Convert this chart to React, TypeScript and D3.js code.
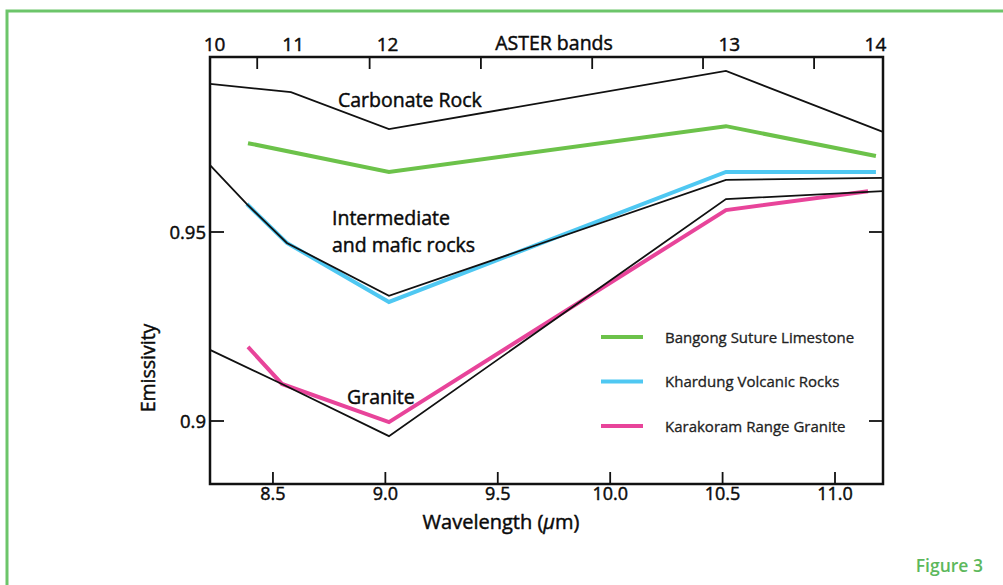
import React from 'react';
import * as d3 from 'd3';

// wavelength (µm) of each polyline vertex
const carbonateX = [8.22, 8.58, 9.016, 10.515, 11.213];
const carbonateY = [0.9892, 0.987, 0.9772, 0.9926, 0.9765];

const bangongX = [8.389, 9.016, 10.515, 11.182];
const bangongY = [0.9735, 0.9659, 0.978, 0.9701];

const mafictX = [8.22, 8.384, 8.562, 9.016, 10.515, 11.213];
const maficY = [0.9677, 0.9574, 0.9471, 0.9331, 0.9638, 0.9643];

const khardungX = [8.384, 8.562, 9.016, 10.515, 11.182];
const khardungY = [0.9574, 0.9471, 0.9315, 0.9659, 0.9659];

const graniteX = [8.22, 8.54, 9.016, 10.515, 11.213];
const graniteY = [0.9188, 0.9098, 0.896, 0.9587, 0.9608];

const karakoramX = [8.389, 8.54, 9.016, 10.515, 11.147];
const karakoramY = [0.9196, 0.9098, 0.8997, 0.9558, 0.9608];

const xTicks = [8.5, 9.0, 9.5, 10.0, 10.5, 11.0];
const yTicks = [0.95, 0.9];
const yTickLabels = ['0.95', '0.9'];
const topTicks = [8.43, 8.93, 9.425, 9.92, 10.413, 10.907];
const bandNames = ['10', '11', '12', '13', '14'];
const bandPos = [8.24, 8.59, 9.01, 10.53, 11.18];

const legendNames = ['Bangong Suture Limestone', 'Khardung Volcanic Rocks', 'Karakoram Range Granite'];
const legendColors = ['#6cc24a', '#4fc8f2', '#e8449a'];

const zip = (xs: number[], ys: number[]) => xs.map((x, i) => [x, ys[i]] as [number, number]);

export default function App() {
  const width = 1003;
  const height = 585;
  const left = 210, right = 883, top = 57, bottom = 484;
  const font = '"Open Sans", sans-serif';
  const ink = '#0a0a0a';
  // thin outline so the glyphs read as heavy as the scanned original
  const heavy = { fill: ink, stroke: ink, strokeWidth: 0.45 };

  const x = d3.scaleLinear().domain([8.22, 11.2135]).range([left, right]);
  const y = d3.scaleLinear().domain([0.9, 0.95]).range([421, 232]);
  const line = d3.line<[number, number]>().x(d => x(d[0])).y(d => y(d[1]));

  const blackLines = [
    zip(carbonateX, carbonateY),
    zip(mafictX, maficY),
    zip(graniteX, graniteY),
  ];
  const colorLines = [
    { pts: zip(bangongX, bangongY), color: legendColors[0] },
    { pts: zip(khardungX, khardungY), color: legendColors[1] },
    { pts: zip(karakoramX, karakoramY), color: legendColors[2] },
  ];

  return (
    <svg width={width} height={height} style={{ position: 'absolute', left: 0, top: 0, background: '#fff' }}
         fontFamily={font}>
      <rect x={7} y={11} width={1010} height={600} fill="none" stroke="#6cc56a" strokeWidth={3} />

      {colorLines.map((l, i) => (
        <path key={'c' + i} d={line(l.pts) || ''} fill="none" stroke={l.color} strokeWidth={4} />
      ))}
      {blackLines.map((pts, i) => (
        <path key={'b' + i} d={line(pts) || ''} fill="none" stroke="#111" strokeWidth={1.8} />
      ))}

      {/* frame */}
      <rect x={left} y={top} width={right - left} height={bottom - top} fill="none" stroke="#111" strokeWidth={2.5} />

      {/* bottom axis */}
      {xTicks.map(t => (
        <g key={'x' + t}>
          <line x1={x(t)} x2={x(t)} y1={bottom} y2={bottom - 12} stroke="#111" strokeWidth={1.8} />
          <text x={x(t)} y={500} textAnchor="middle" fontSize={18} {...heavy}>{t.toFixed(1)}</text>
        </g>
      ))}
      <text x={501} y={529} textAnchor="middle" fontSize={20} {...heavy}>
        Wavelength (<tspan fontStyle="italic">μ</tspan>m)
      </text>

      {/* top axis */}
      {topTicks.map(t => (
        <line key={'t' + t} x1={x(t)} x2={x(t)} y1={top} y2={top + 12} stroke="#111" strokeWidth={1.8} />
      ))}
      {bandNames.map((b, i) => (
        <text key={'band' + b} x={x(bandPos[i])} y={51} textAnchor="middle" fontSize={19} {...heavy}>{b}</text>
      ))}
      <text x={554} y={50} textAnchor="middle" fontSize={19.5} {...heavy}>ASTER bands</text>

      {/* left / right axis */}
      {yTicks.map((t, i) => (
        <g key={'y' + t}>
          <line x1={left} x2={left + 14} y1={y(t)} y2={y(t)} stroke="#111" strokeWidth={1.8} />
          <line x1={right} x2={right - 14} y1={y(t)} y2={y(t)} stroke="#111" strokeWidth={1.8} />
          <text x={206} y={y(t) + 6.5} textAnchor="end" fontSize={18.5} {...heavy}>{yTickLabels[i]}</text>
        </g>
      ))}
      <text transform="translate(155,368) rotate(-90)" textAnchor="middle" fontSize={19.5} {...heavy}>Emissivity</text>

      {/* in-plot labels */}
      <text x={338} y={107} fontSize={19.5} {...heavy}>Carbonate Rock</text>
      <text x={332} y={225} fontSize={19.5} {...heavy}>Intermediate</text>
      <text x={332} y={252} fontSize={19.5} {...heavy}>and mafic rocks</text>
      <text x={347} y={404} fontSize={19.5} {...heavy}>Granite</text>

      {/* legend */}
      {legendNames.map((n, i) => (
        <g key={n} transform={`translate(601,${337 + i * 44.5})`}>
          <line x1={0} x2={42} y1={0} y2={0} stroke={legendColors[i]} strokeWidth={4} />
          <text x={64} y={5.5} fontSize={15} fill="#222" stroke="#222" strokeWidth={0.3}>{n}</text>
        </g>
      ))}

      <text x={983} y={572} textAnchor="end" fontSize={17.5} fontWeight={600} fill="#5cb85c">Figure 3</text>
    </svg>
  );
}
